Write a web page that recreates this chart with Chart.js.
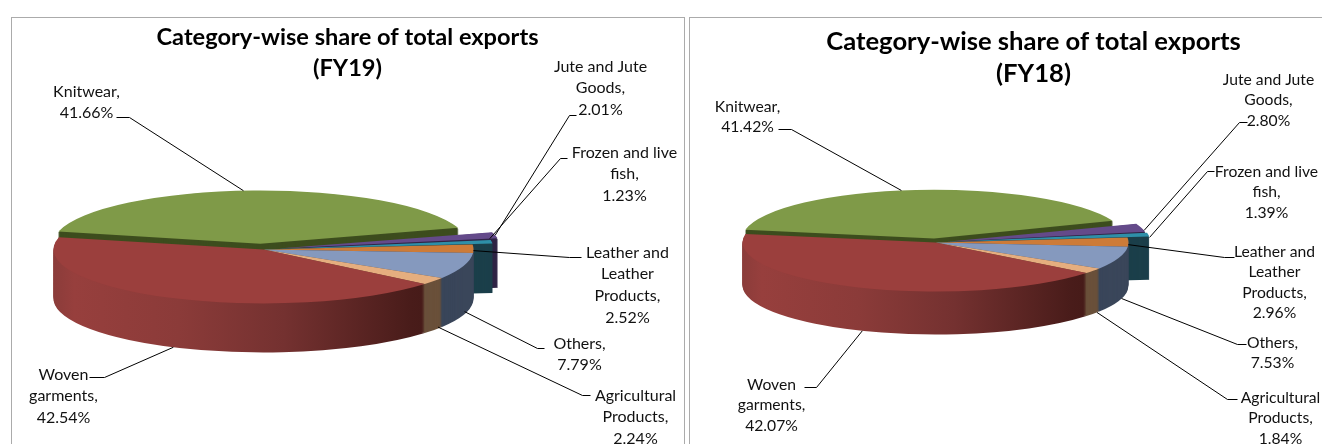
<!DOCTYPE html>
<html>
<head>
<meta charset="utf-8">
<title>Category-wise share of total exports</title>
<script src="https://cdn.jsdelivr.net/npm/chart.js@4"></script>
<style>
    html, body { margin: 0; padding: 0; background: #fff; }
    body { position: relative; width: 1322px; height: 444px; overflow: hidden; }
    .marco { position: absolute; box-sizing: border-box; border: 1.5px solid #ababab; background: #fff; overflow: hidden; }
    canvas { display: block; }
</style>
</head>
<body>
<div class="marco" style="left:11px;top:17px;width:674px;height:440px"><canvas id="graficoFY19" width="671" height="437"></canvas></div>
<div class="marco" style="left:689px;top:17px;width:690px;height:440px"><canvas id="graficoFY18" width="687" height="437"></canvas></div>

<script>
// DATOS
const categorias = ['Knitwear', 'Jute and Jute Goods', 'Frozen and live fish', 'Leather and Leather Products', 'Others', 'Agricultural Products', 'Woven garments'];
const lineasEtiqueta = [['Knitwear,'], ['Jute and Jute', 'Goods,'], ['Frozen and live', 'fish,'], ['Leather and', 'Leather', 'Products,'], ['Others,'], ['Agricultural', 'Products,'], ['Woven', 'garments,']];
const valoresFY19 = [41.66, 2.01, 1.23, 2.52, 7.79, 2.24, 42.54];
const valoresFY18 = [41.42, 2.80, 1.39, 2.96, 7.53, 1.84, 42.07];

// ESTILOS
const coloresCara = ['#7f9a48', '#644a8a', '#2e8fa8', '#cd7b38', '#8599be', '#e5ae7f', '#9b3f3d'];
const coloresLado = ['#3d4d1e', '#2f2445', '#1b3f4a', '#3a465a', '#3a465a', '#6a503a', null];
const separacionFY19 = [88, 60, 42, 0, 0, 0, 0];
const separacionFY18 = [64, 46, 46, 0, 0, 0, 0];

// posicion de cada etiqueta: centro x, y de la primera linea, inicio y codo de la guia (en la pagina)
// giro = grados que se mueve la punta de la guia, lado = cuanto baja por el lateral
const etiquetasFY19 = [
    { x: 87, y: 92, ix: 117, iy: 118, cx: 130, cy: 118, lado: 0, giro: -3 },
    { x: 601, y: 67, ix: 577, iy: 116, cx: 570, cy: 116, lado: 0, giro: 0 },
    { x: 625, y: 153, ix: 568, iy: 159, cx: 561, cy: 159, lado: 0, giro: -3 },
    { x: 628, y: 253, ix: 582, iy: 258, cx: 570, cy: 258, lado: 0, giro: 2 },
    { x: 580, y: 344, ix: 545, iy: 349, cx: 538, cy: 349, lado: 0.95, giro: -1 },
    { x: 636, y: 396, ix: 591, iy: 396, cx: 583, cy: 396, lado: 0.97, giro: -2 },
    { x: 64, y: 375, ix: 90, iy: 378, cx: 105, cy: 378, lado: 1, giro: -1 }
];
const etiquetasFY18 = [
    { x: 748, y: 107, ix: 779, iy: 130, cx: 792, cy: 130, lado: 0, giro: -4 },
    { x: 1269, y: 80, ix: 1248, iy: 123, cx: 1240, cy: 123, lado: 0, giro: 3 },
    { x: 1267, y: 172, ix: 1215, iy: 172, cx: 1208, cy: 172, lado: 0, giro: 3 },
    { x: 1275, y: 252, ix: 1235, iy: 258, cx: 1225, cy: 258, lado: 0, giro: 3 },
    { x: 1273, y: 343, ix: 1247, iy: 345, cx: 1238, cy: 345, lado: 1, giro: -3 },
    { x: 1281, y: 398, ix: 1238, iy: 400, cx: 1228, cy: 400, lado: 1, giro: -2 },
    { x: 772, y: 385, ix: 805, iy: 388, cx: 817, cy: 388, lado: 1, giro: -2 }
];

// igual que hace ArcElement.draw: traslada offset/4 y agranda el radio
function geometriaArco(arco) {
    const medio = (arco.startAngle + arco.endAngle) / 2;
    const t = arco.options.offset / 4;
    const radio = arco.outerRadius + t * (1 - Math.sin(Math.min(Math.PI, arco.circumference)));
    return { medio, radio, ox: Math.cos(medio) * t, oy: Math.sin(medio) * t, t };
}

// Plugin: aplasta el pie de Chart.js y le dibuja el lateral para que parezca 3D
const pie3D = {
    id: 'pie3D',
    afterDatasetUpdate(chart, args, opts) {
        // la porcion de atras se ve algo mas estrecha por la perspectiva
        const atras = args.meta.data[0];
        atras.x += opts.atrasX;
        atras.outerRadius += opts.atrasRadio;
    },
    beforeDatasetDraw(chart, args, opts) {
        const ctx = chart.ctx;
        const arcos = args.meta.data;
        const base = arcos[arcos.length - 1];
        const k = opts.alto / opts.radio;
        ctx.save();
        ctx.translate(opts.centroX - opts.origenX, opts.centroY - opts.origenY);
        ctx.scale(1, k);
        ctx.translate(-base.x, -base.y);

        const x0 = base.x - opts.radio;
        const degradado = ctx.createLinearGradient(x0, 0, x0 + opts.radio * 2, 0);
        degradado.addColorStop(0, '#8b3c3a');
        degradado.addColorStop(0.05, '#973f3d');
        degradado.addColorStop(0.3, '#8b3b39');
        degradado.addColorStop(0.55, '#743130');
        degradado.addColorStop(0.85, '#491c1a');
        degradado.addColorStop(1, '#3f1714');

        arcos.forEach((arco, i) => {
            const g = geometriaArco(arco);
            ctx.fillStyle = coloresLado[i] || degradado;
            for (let d = opts.grosor; d > 0; d--) {
                ctx.beginPath();
                ctx.moveTo(arco.x + g.ox, arco.y + g.oy + d / k);
                ctx.arc(arco.x + g.ox, arco.y + g.oy + d / k, g.radio, arco.startAngle, arco.endAngle);
                ctx.closePath();
                ctx.fill();
            }
        });
    },
    afterDatasetDraw(chart, args, opts) {
        const ctx = chart.ctx;
        ctx.restore();

        const arcos = args.meta.data;
        const k = opts.alto / opts.radio;
        const valores = chart.data.datasets[0].data;

        ctx.save();
        ctx.translate(-opts.origenX, -opts.origenY);
        opts.etiquetas.forEach((e, i) => {
            const g = geometriaArco(arcos[i]);
            const medio = g.medio + e.giro * Math.PI / 180;
            const r = g.radio + g.t;
            const px = opts.centroX + Math.cos(medio) * r;
            const py = opts.centroY + Math.sin(medio) * r * k + e.lado * opts.grosor;

            ctx.beginPath();
            ctx.moveTo(e.ix, e.iy);
            ctx.lineTo(e.cx, e.cy);
            ctx.lineTo(px, py);
            ctx.strokeStyle = '#000';
            ctx.lineWidth = 1;
            ctx.stroke();

            const lineas = lineasEtiqueta[i].concat(valores[i].toFixed(2) + '%');
            ctx.fillStyle = '#111';
            ctx.font = opts.fuente;
            ctx.textAlign = 'center';
            ctx.textBaseline = 'middle';
            lineas.forEach((texto, n) => ctx.fillText(texto, e.x, e.y + n * opts.interlinea));
        });
        ctx.restore();
    }
};

function crearGrafico(id, valores, anio, separacion, conf) {
    const ctx = document.getElementById(id).getContext('2d');
    return new Chart(ctx, {
        type: 'pie',
        data: {
            labels: categorias,
            datasets: [{
                data: valores,
                backgroundColor: coloresCara,
                borderWidth: 0,
                offset: separacion,
                clip: false
            }]
        },
        options: {
            responsive: false,
            animation: false,
            rotation: conf.rotacion,
            radius: conf.radio,
            plugins: {
                legend: { display: false },
                tooltip: { enabled: false },
                title: {
                    display: true,
                    text: ['Category-wise share of total exports', '(' + anio + ')'],
                    color: '#000',
                    font: { family: 'Lato', size: conf.tamTitulo, weight: 'bold', lineHeight: conf.lineaTitulo },
                    padding: { top: conf.margenTitulo, bottom: 0 }
                },
                pie3D: conf
            }
        },
        plugins: [pie3D]
    });
}

document.addEventListener('DOMContentLoaded', function () {
    crearGrafico('graficoFY19', valoresFY19, 'FY19', separacionFY19, {
        rotacion: 283, radio: 210, alto: 54, grosor: 49, centroX: 264, centroY: 250, origenX: 12.5, origenY: 18.5,
        atrasX: -2.5, atrasRadio: -13.5,
        etiquetas: etiquetasFY19, fuente: '16px Lato', interlinea: 21.7,
        tamTitulo: 23.6, lineaTitulo: 1.32, margenTitulo: 4
    });
    crearGrafico('graficoFY18', valoresFY18, 'FY18', separacionFY18, {
        rotacion: 280, radio: 193, alto: 49, grosor: 43, centroX: 936, centroY: 243, origenX: 690.5, origenY: 18.5,
        atrasX: 0, atrasRadio: -9,
        etiquetas: etiquetasFY18, fuente: '15.7px Lato', interlinea: 20.5,
        tamTitulo: 25.6, lineaTitulo: 1.27, margenTitulo: 7
    });
});
</script>
</body>
</html>
